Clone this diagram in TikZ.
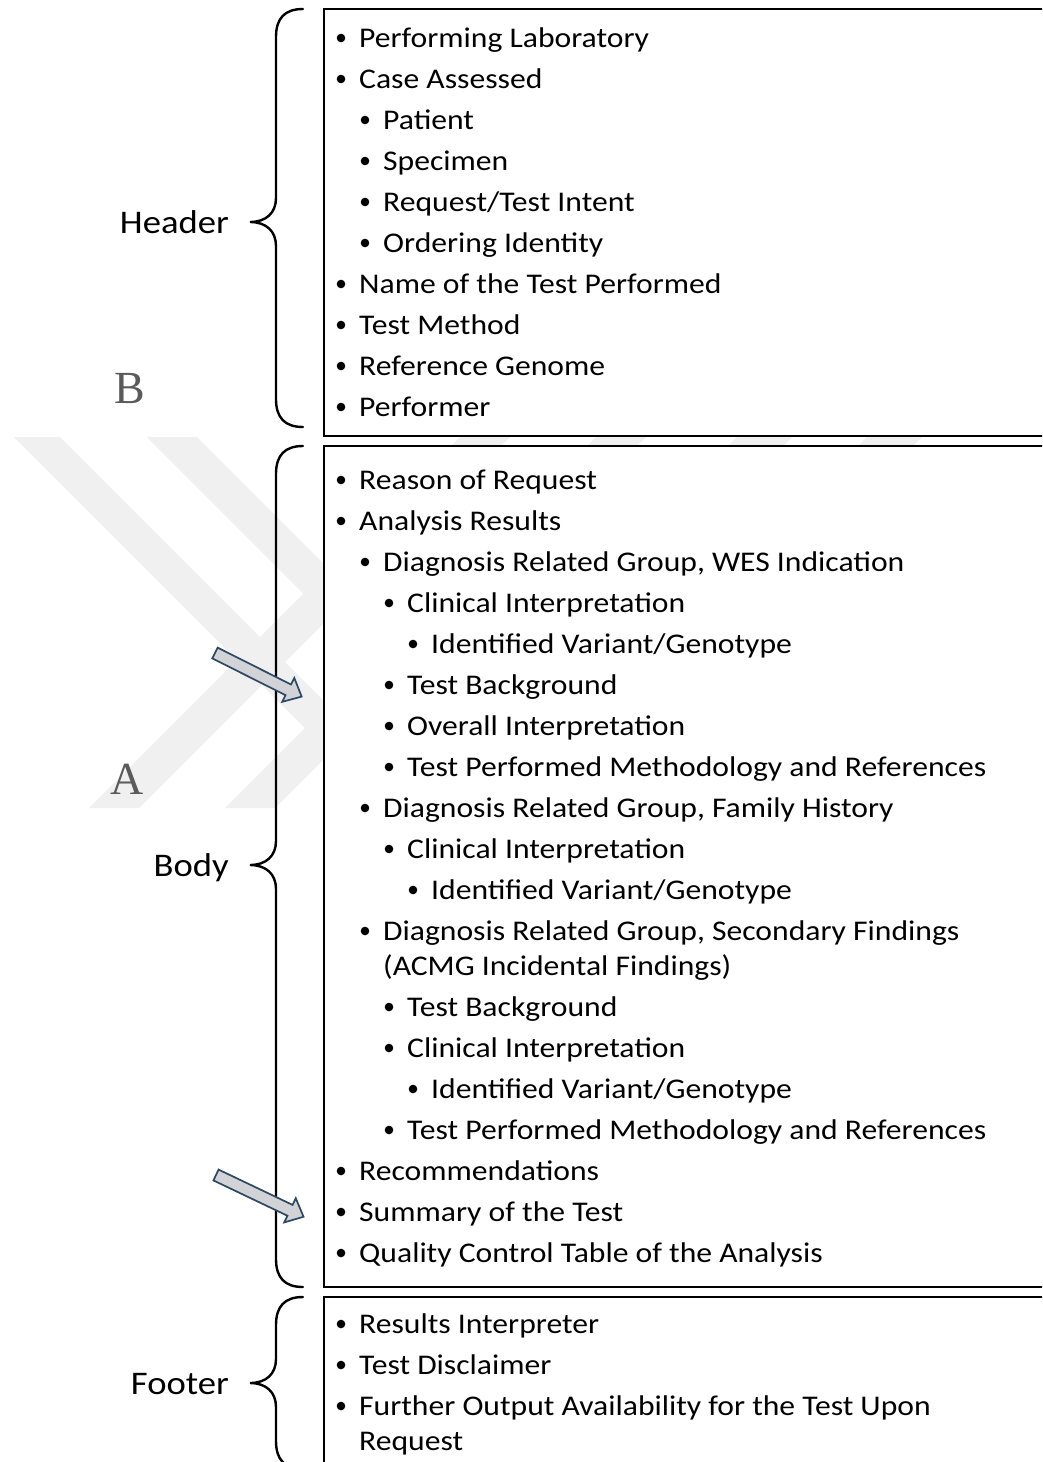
\documentclass[tikz,border=0pt]{standalone}
\usepackage{fontspec}
\setmainfont{Carlito}[FakeStretch=1.11]
\newfontfamily\markfont{Liberation Serif}

\definecolor{wmgray}{RGB}{240,240,240}
\definecolor{markgray}{RGB}{90,90,90}
\definecolor{arrowfill}{RGB}{209,211,214}
\definecolor{arrowedge}{RGB}{44,72,98}

\tikzset{
  item/.style={anchor=base west, inner sep=0pt, font=\fontsize{28.5}{34}\selectfont},
  sidelabel/.style={anchor=base east, inner sep=0pt, font=\fontsize{33}{38}\selectfont},
  dot/.style={circle, fill=black, inner sep=0pt, minimum size=8.6pt},
  frame/.style={draw=black, line width=2.8pt, fill=white},
  brace/.style={draw=black, line width=2.4pt, line cap=round},
  band/.style={fill=wmgray},
  letter/.style={text=markgray, inner sep=0pt, font=\markfont\fontsize{46}{46}\selectfont},
  blockarrow/.style={draw=arrowedge, fill=arrowfill, line width=1.7pt, line join=miter},
}

% one bullet entry: name, level, baseline, text
\newcommand\wlitem[4]{%
  \node[dot] (#1-dot) at ({341+24*#2},{#3-9}) {};
  \node[item] (#1) at ({359+24*#2},#3) {#4};
}
% curly brace on the left of a frame: top, tip, bottom
\newcommand\sidebrace[3]{%
  \draw[brace] (303,#1) .. controls (285,#1) and (276,{#1+9}) .. (276,{#1+28})
    -- (276,{#2-24}) .. controls (276,{#2-9}) and (266,#2) .. (250,#2)
    .. controls (266,#2) and (276,{#2+9}) .. (276,{#2+24})
    -- (276,{#3-28}) .. controls (276,{#3-9}) and (285,#3) .. (303,#3);
}
% block arrow of length 97 starting at the tail centre
\newcommand\blockarrow[2]{%
  \begin{scope}[shift={#1}, rotate=#2]
    \draw[blockarrow] (0,-6) -- (82,-6) -- (82,-13.4) -- (97,0) -- (82,13.4)
      -- (82,6) -- (0,6) -- cycle;
  \end{scope}
}

\begin{document}
\begin{tikzpicture}[x=1pt,y=-1pt]
  \useasboundingbox (0,0) rectangle (1042,1462);
  \clip (0,0) rectangle (1042,1462);
  \fill[white] (0,0) rectangle (1042,1462);

  % faint chevron watermark
  \begin{scope}
    \clip (0,437) rectangle (1042,808);
    \fill[band] (14,437) -- (60,437) -- (431,808) -- (385,808) -- cycle;
    \fill[band] (147,437) -- (197,437) -- (568,808) -- (518,808) -- cycle;
    \fill[band] (460,437) -- (510,437) -- (139,808) -- (89,808) -- cycle;
    \fill[band] (596,437) -- (646,437) -- (275,808) -- (225,808) -- cycle;
    \fill[band] (737,437) -- (792,437) -- (421,808) -- (366,808) -- cycle;
    \fill[band] (867,437) -- (922,437) -- (551,808) -- (496,808) -- cycle;
  \end{scope}

  % panel letters
  \node[letter] (markB) at (130,389) {B};
  \node[letter] (markA) at (127,779) {A};

  % braces and their labels
  \sidebrace{9}{222}{427}
  \sidebrace{446}{865}{1287}
  \sidebrace{1297}{1383}{1469}
  \node[sidelabel] (header) at (229,233) {Header};
  \node[sidelabel] (body) at (229,876) {Body};
  \node[sidelabel] (footer) at (229,1394) {Footer};

  % frames
  \draw[frame] (324,9) rectangle (1070,436);
  \draw[frame] (324,446) rectangle (1070,1287);
  \draw[frame] (324,1297) rectangle (1070,1490);

  % header entries
  \wlitem{h1}{0}{47}{Performing Laboratory}
  \wlitem{h2}{0}{88}{Case Assessed}
  \wlitem{h3}{1}{129}{Patient}
  \wlitem{h4}{1}{170}{Specimen}
  \wlitem{h5}{1}{211}{Request/Test Intent}
  \wlitem{h6}{1}{252}{Ordering Identity}
  \wlitem{h7}{0}{293}{Name of the Test Performed}
  \wlitem{h8}{0}{334}{Test Method}
  \wlitem{h9}{0}{375}{Reference Genome}
  \wlitem{h10}{0}{416}{Performer}

  % body entries
  \wlitem{b1}{0}{489}{Reason of Request}
  \wlitem{b2}{0}{530}{Analysis Results}
  \wlitem{b3}{1}{571}{Diagnosis Related Group, WES Indication}
  \wlitem{b4}{2}{612}{Clinical Interpretation}
  \wlitem{b5}{3}{653}{Identified Variant/Genotype}
  \wlitem{b6}{2}{694}{Test Background}
  \wlitem{b7}{2}{735}{Overall Interpretation}
  \wlitem{b8}{2}{776}{Test Performed Methodology and References}
  \wlitem{b9}{1}{817}{Diagnosis Related Group, Family History}
  \wlitem{b10}{2}{858}{Clinical Interpretation}
  \wlitem{b11}{3}{899}{Identified Variant/Genotype}
  \wlitem{b12}{1}{940}{Diagnosis Related Group, Secondary Findings}
  \node[item] (b12-cont) at (383,975) {(ACMG Incidental Findings)};
  \wlitem{b13}{2}{1016}{Test Background}
  \wlitem{b14}{2}{1057}{Clinical Interpretation}
  \wlitem{b15}{3}{1098}{Identified Variant/Genotype}
  \wlitem{b16}{2}{1139}{Test Performed Methodology and References}
  \wlitem{b17}{0}{1180}{Recommendations}
  \wlitem{b18}{0}{1221}{Summary of the Test}
  \wlitem{b19}{0}{1262}{Quality Control Table of the Analysis}

  % footer entries
  \wlitem{f1}{0}{1333}{Results Interpreter}
  \wlitem{f2}{0}{1374}{Test Disclaimer}
  \wlitem{f3}{0}{1415}{Further Output Availability for the Test Upon}
  \node[item] (f3-cont) at (359,1450) {Request};

  % block arrows pointing into the body list
  \blockarrow{(215,653)}{-26.7}
  \blockarrow{(216,1175)}{-25.5}
\end{tikzpicture}
\end{document}
